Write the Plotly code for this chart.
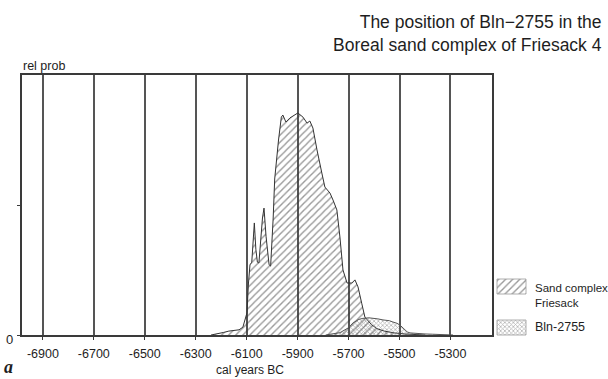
import plotly.graph_objects as go

# Calibrated age distributions (cal years BC, relative probability)
sand_years = [-6240, -6215, -6190, -6170, -6150, -6130, -6115, -6105, -6099, -6093,
              -6087, -6080, -6074, -6070, -6064, -6058, -6052, -6046, -6038, -6032,
              -6024, -6012, -6006, -5996, -5990, -5975, -5964, -5958, -5946, -5930,
              -5915, -5899, -5879, -5863, -5852, -5840, -5824, -5812, -5805, -5793,
              -5773, -5761, -5746, -5734, -5722, -5706, -5687, -5675, -5663, -5648,
              -5636, -5628, -5610, -5590, -5560, -5520, -5480, -5420, -5400]
sand_prob = [0.000, 0.004, 0.010, 0.015, 0.018, 0.020, 0.030, 0.060, 0.085, 0.200,
             0.270, 0.280, 0.400, 0.431, 0.330, 0.280, 0.277, 0.360, 0.450, 0.488,
             0.380, 0.270, 0.265, 0.450, 0.600, 0.750, 0.838, 0.846, 0.819, 0.835,
             0.845, 0.854, 0.838, 0.815, 0.823, 0.796, 0.712, 0.662, 0.623, 0.569,
             0.546, 0.519, 0.481, 0.377, 0.250, 0.200, 0.200, 0.212, 0.185, 0.120,
             0.069, 0.060, 0.040, 0.025, 0.015, 0.008, 0.004, 0.001, 0.000]

bln_years = [-5790, -5760, -5734, -5700, -5683, -5660, -5644, -5620, -5604, -5585,
             -5565, -5540, -5526, -5510, -5498, -5485, -5470, -5459, -5440, -5420,
             -5400, -5370, -5340, -5310, -5290]
bln_prob = [0.000, 0.004, 0.009, 0.028, 0.046, 0.060, 0.064, 0.066, 0.065, 0.062,
            0.058, 0.055, 0.050, 0.045, 0.038, 0.025, 0.012, 0.008, 0.006, 0.005,
            0.004, 0.003, 0.002, 0.001, 0.000]

tick_years = [-6900, -6700, -6500, -6300, -6100, -5900, -5700, -5500, -5300]
tick_text = ["-6900", "-6700", "-6500", "-6300", "-6100", "-5900", "-5700", "-5500", "-5300"]

series_names = ["Sand complex<br>Friesack", "Bln-2755"]

W, H = 608, 379
FONT = "Liberation Sans, Arial, Helvetica, sans-serif"
INK = "#3a3a3a"
TEXT = "#1e1e1e"

hatch = dict(shape="/", size=5, solidity=0.28, fgcolor="#333333",
             bgcolor="rgba(255,255,255,0)")
dots = dict(shape="x", size=3, solidity=0.45, fgcolor="#6a6a6a",
            bgcolor="rgba(255,255,255,0)")

fig = go.Figure()
fig.add_trace(go.Scatter(x=sand_years, y=sand_prob, mode="lines", fill="tozeroy",
                         line=dict(color="#333333", width=1),
                         fillcolor="rgba(255,255,255,0)", fillpattern=hatch,
                         showlegend=False, hoverinfo="skip"))
fig.add_trace(go.Scatter(x=bln_years, y=bln_prob, mode="lines", fill="tozeroy",
                         line=dict(color="#555555", width=1),
                         fillcolor="rgba(255,255,255,0)", fillpattern=dots,
                         showlegend=False, hoverinfo="skip"))

# Key swatches drawn on a full-figure axis measured in pixels
def px(x):
    return x / W

def py(y):
    return 1 - y / H

key_x0, key_w, key_h = 497, 29, 15
key_rows = [279, 320]
for top, patt in zip(key_rows, [hatch, dots]):
    fig.add_trace(go.Scatter(
        x=[key_x0, key_x0 + key_w, key_x0 + key_w, key_x0, key_x0],
        y=[top, top, top + key_h, top + key_h, top],
        xaxis="x2", yaxis="y2", mode="lines", fill="toself",
        line=dict(color="#999999", width=0.8),
        fillcolor="rgba(255,255,255,0)", fillpattern=patt,
        showlegend=False, hoverinfo="skip"))

annotations = [
    dict(text="The position of Bln\u22122755 in the<br>Boreal sand complex of Friesack 4",
         x=px(604), y=py(10), xanchor="right", yanchor="top", align="right",
         font=dict(size=17.5, color=TEXT)),
    dict(text="rel prob", x=px(21), y=py(66), xanchor="left", yanchor="middle",
         font=dict(size=12.5, color=TEXT)),
    dict(text="0", x=px(15), y=py(339), xanchor="right", yanchor="middle",
         font=dict(size=13, color=TEXT)),
    dict(text="cal years BC", x=px(250), y=py(370), xanchor="center", yanchor="middle",
         font=dict(size=12, color=TEXT)),
    dict(text="<b><i>a</i></b>", x=px(2), y=py(367), xanchor="left", yanchor="middle",
         font=dict(size=18, color=TEXT, family="Liberation Serif, serif")),
    dict(text=series_names[0], x=px(533), y=py(280), xanchor="left", yanchor="top",
         align="left", font=dict(size=11.5, color=TEXT)),
    dict(text=series_names[1], x=px(533), y=py(327), xanchor="left", yanchor="middle",
         font=dict(size=12.5, color=TEXT)),
]
for a in annotations:
    a.update(xref="paper", yref="paper", showarrow=False)
    a["font"].setdefault("family", FONT)

fig.update_layout(
    width=W, height=H,
    margin=dict(l=0, r=0, t=0, b=0),
    paper_bgcolor="white", plot_bgcolor="rgba(0,0,0,0)",
    font=dict(family=FONT, color=TEXT),
    showlegend=False,
    xaxis=dict(domain=[22 / W, 492 / W], range=[-6982, -5137],
               tickvals=tick_years, ticktext=tick_text,
               showgrid=True, gridcolor="#555555", gridwidth=1.5,
               showline=True, mirror=True, linecolor=INK, linewidth=1.5,
               ticks="outside", ticklen=3, tickcolor=INK,
               tickfont=dict(size=12.5), ticklabelstandoff=3,
               zeroline=False, fixedrange=True),
    yaxis=dict(domain=[44 / H, 304 / H], range=[0, 1],
               tickvals=[0, 0.5], showticklabels=False,
               showgrid=False, showline=True, mirror=True, linecolor=INK, linewidth=1.5,
               ticks="outside", ticklen=3, tickcolor=INK,
               zeroline=False, fixedrange=True),
    xaxis2=dict(domain=[0, 1], range=[0, W], visible=False, fixedrange=True,
                anchor="y2"),
    yaxis2=dict(domain=[0, 1], range=[H, 0], visible=False, fixedrange=True,
                anchor="x2"),
    annotations=annotations,
)

fig.write_html("out.html")
